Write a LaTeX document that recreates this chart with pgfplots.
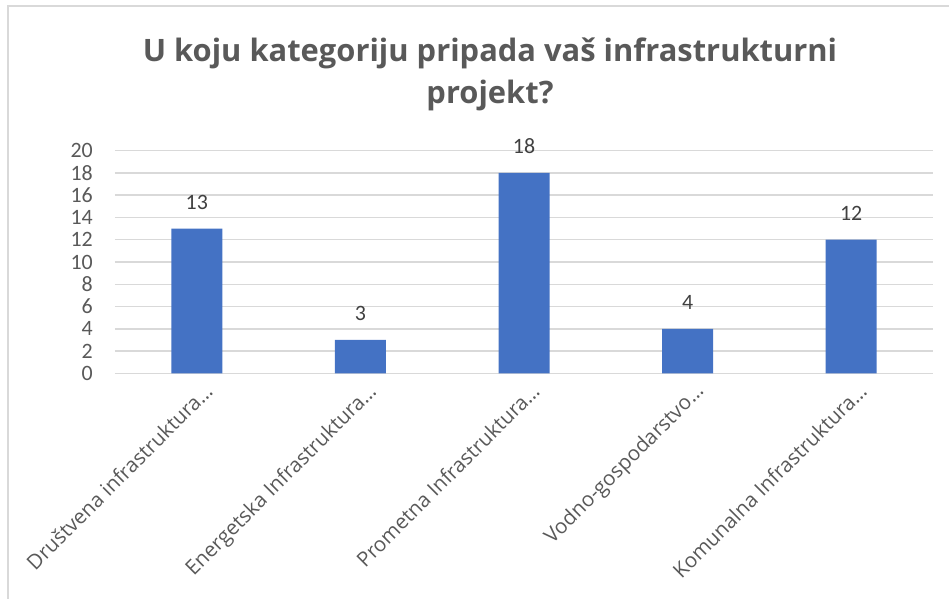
\documentclass[border=0pt]{standalone}
\usepackage{fontspec}
\setmainfont{Open Sans}
\newfontfamily\calib{Carlito}
\usepackage{pgfplots}
\pgfplotsset{compat=1.18}
\definecolor{barblue}{HTML}{4472C4}
\definecolor{gridgray}{HTML}{D9D9D9}
\definecolor{txtgray}{HTML}{595959}
\definecolor{valgray}{HTML}{404040}
\begin{document}
\begin{tikzpicture}[x=1bp,y=1bp]
\path[use as bounding box] (-115,-225.7) rectangle (834,373.3);
\draw[gridgray, line width=1.5bp] (-107,-226) -- (-107,367.3) -- (834,367.3);
\node[anchor=base, inner sep=0, font=\bfseries\fontsize{31}{37}\selectfont, text=txtgray]
  at (375,311.3) {U koju kategoriju pripada vaš infrastrukturni};
\node[anchor=base, inner sep=0, font=\bfseries\fontsize{31}{37}\selectfont, text=txtgray]
  at (375,269.3) {projekt?};
\begin{axis}[
  at={(0,0)}, anchor=south west,
  width=818bp, height=222.6bp, scale only axis,
  ybar, bar width=51bp,
  xmin=-0.5, xmax=4.5, ymin=0, ymax=20,
  xtick=data,
  xticklabels={Društvena infrastruktura…,Energetska Infrastruktura…,Prometna Infrastruktura…,Vodno-gospodarstvo…,Komunalna Infrastruktura…},
  ytick={0,2,...,20},
  axis line style={draw=none},
  major tick length=0,
  ymajorgrids, grid style={gridgray, line width=1.5bp},
  /pgf/number format/assume math mode=true,
  yticklabel style={font=\calib\fontsize{22}{26}\selectfont, text=txtgray, anchor=east, inner sep=0, xshift=-22bp},
  xticklabel style={font=\fontsize{20.6}{24}\selectfont, text=txtgray, xshift=6bp, yshift=-8bp, rotate=45, anchor=north east, inner sep=0},
  nodes near coords,
  every node near coord/.append style={font=\calib\fontsize{22}{26}\selectfont, text=valgray, anchor=base, inner sep=0, yshift=19bp},
  clip=false,
]
\addplot[fill=barblue, draw=none] coordinates {(0,13) (1,3) (2,18) (3,4) (4,12)};
\end{axis}
\end{tikzpicture}
\end{document}
